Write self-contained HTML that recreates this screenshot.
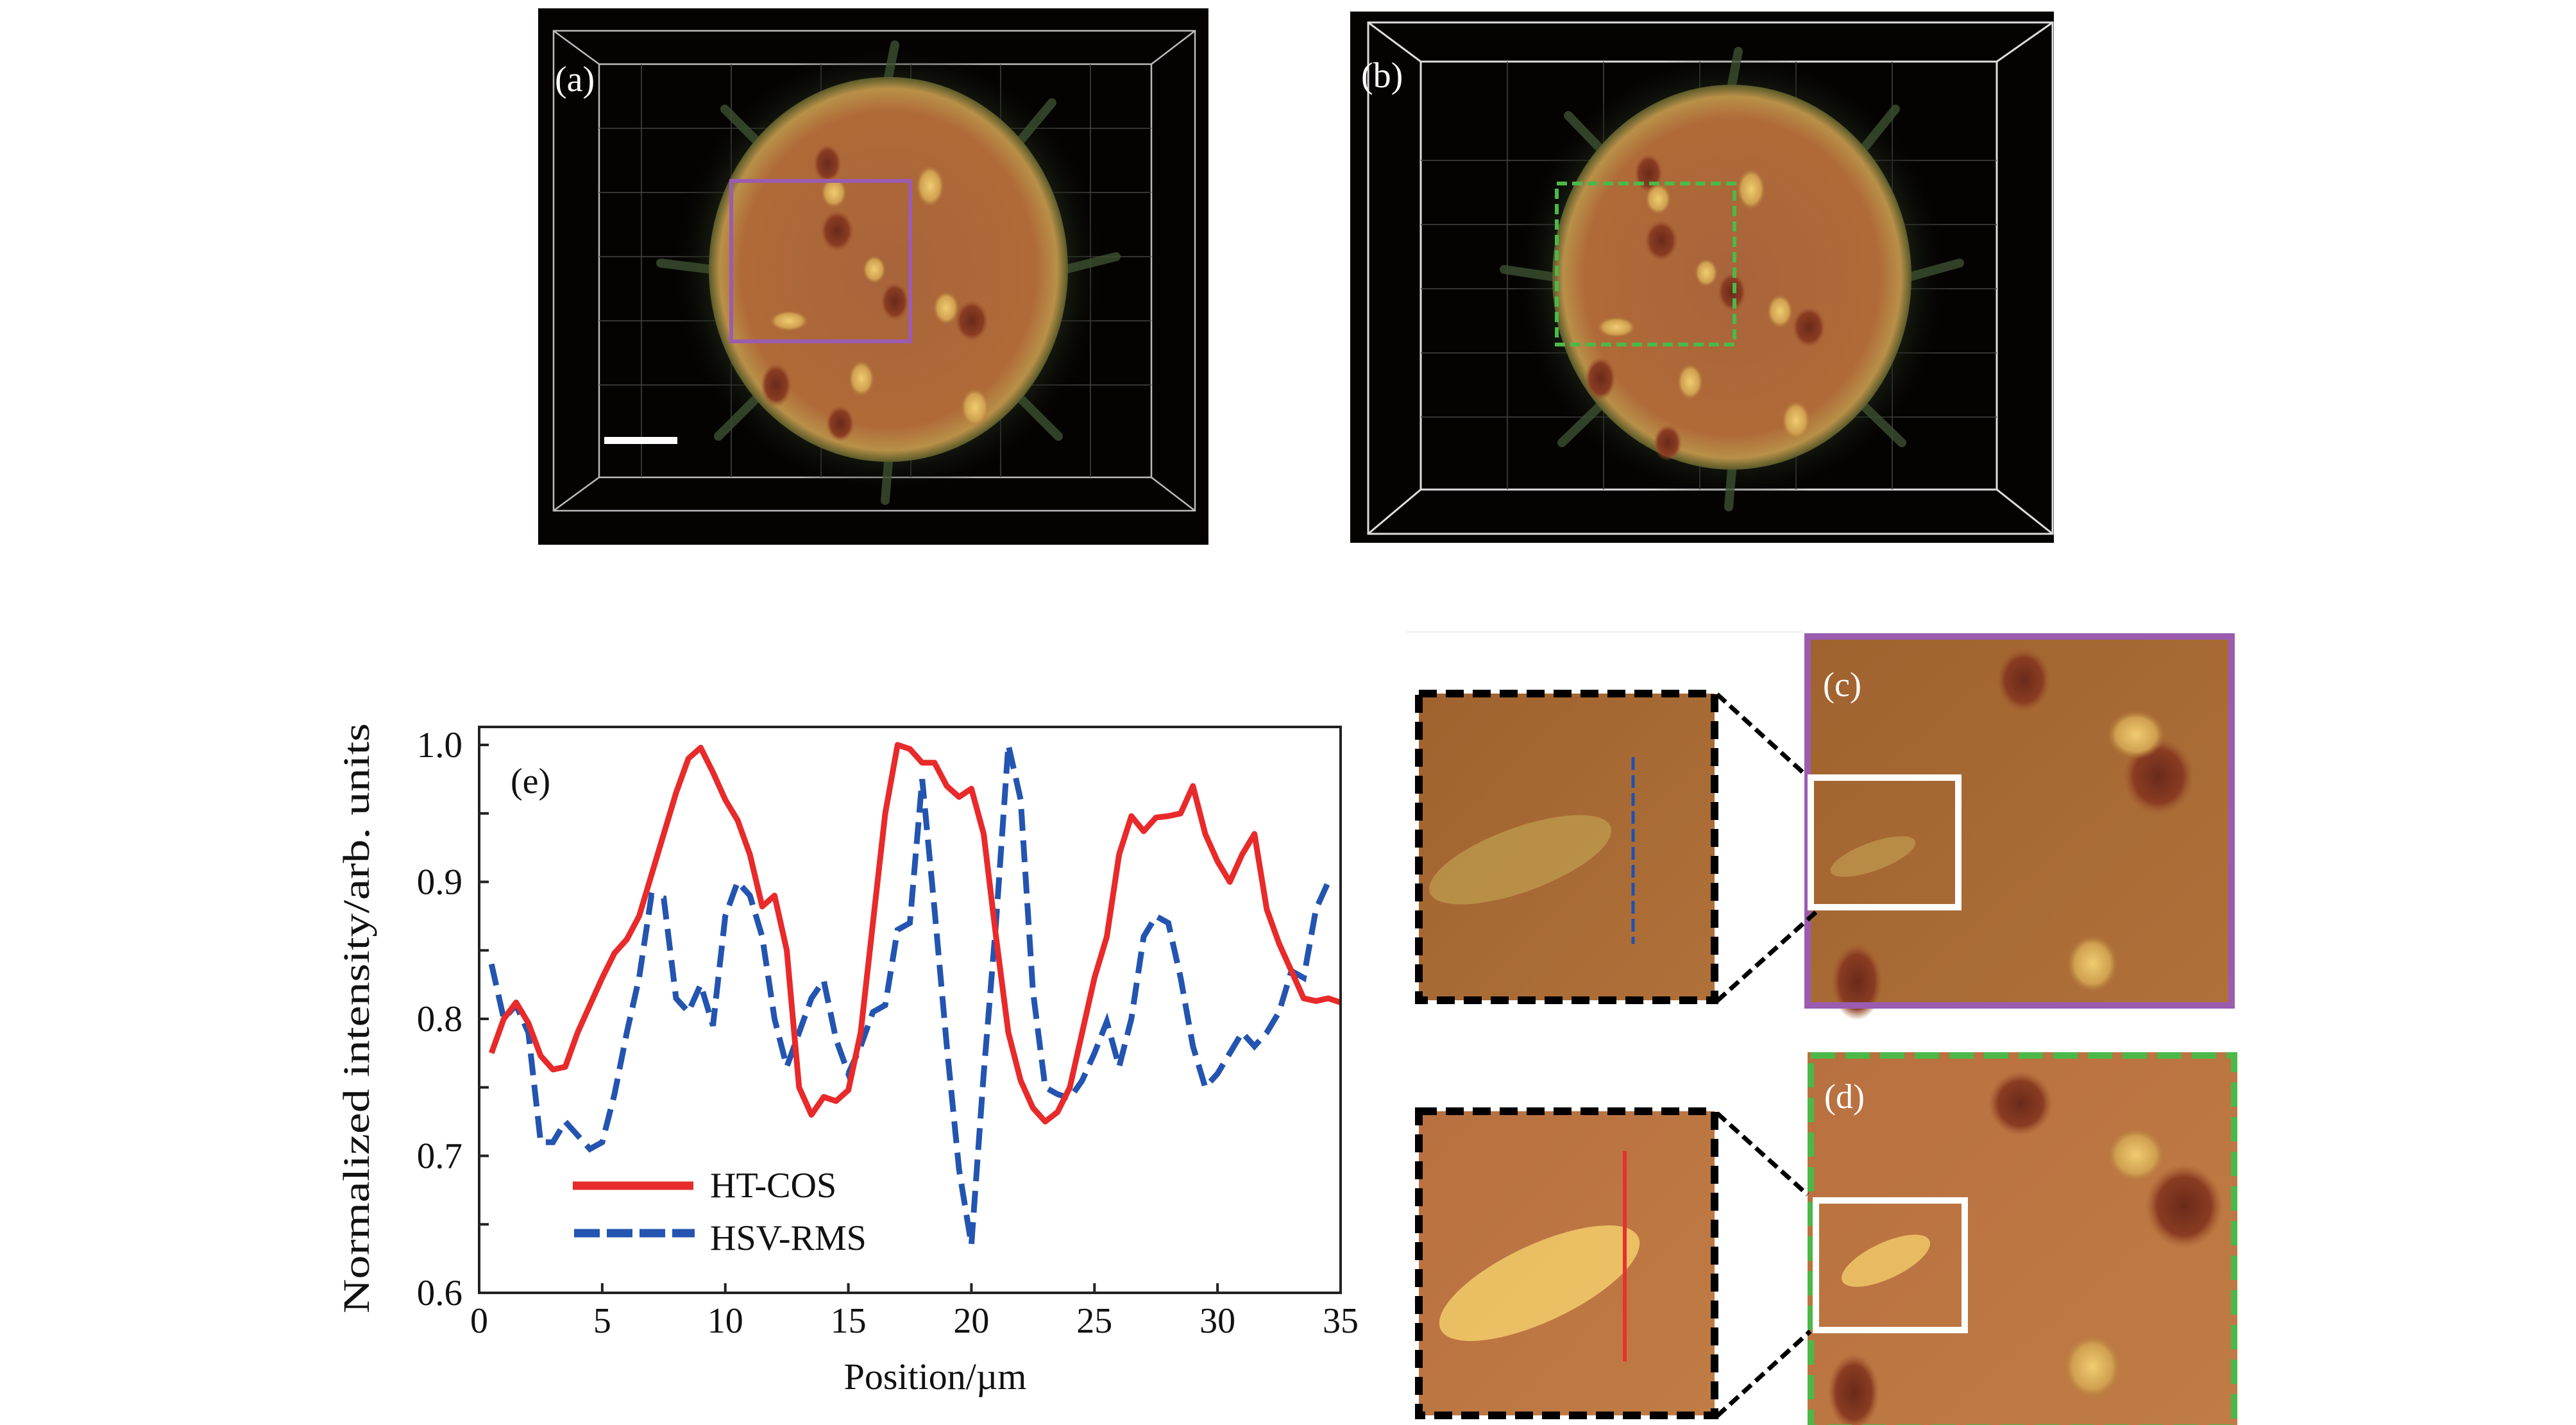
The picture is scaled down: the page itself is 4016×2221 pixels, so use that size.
<!DOCTYPE html>
<html><head><meta charset="utf-8"><style>
html,body{margin:0;padding:0;background:#fff;}
svg{display:block;}
text{font-family:"Liberation Serif",serif;}
</style></head><body>
<svg id="fig" width="4016" height="2221" viewBox="0 0 4016 2221" xmlns="http://www.w3.org/2000/svg">
<defs>
<radialGradient id="sph" cx="0.5" cy="0.5" r="0.5">
<stop offset="0" stop-color="#a8643a"/><stop offset="0.82" stop-color="#b06a38"/><stop offset="0.94" stop-color="#b89048"/><stop offset="1" stop-color="#5a5a2a"/>
</radialGradient>
<radialGradient id="halo" cx="0.5" cy="0.5" r="0.5">
<stop offset="0.75" stop-color="#2e3a22"/><stop offset="1" stop-color="#000" stop-opacity="0"/>
</radialGradient>
<radialGradient id="pit" cx="0.5" cy="0.5" r="0.5"><stop offset="0" stop-color="#6a2a1a"/><stop offset="0.7" stop-color="#8a3c22"/><stop offset="1" stop-color="#a0582e" stop-opacity="0"/></radialGradient>
<radialGradient id="bump" cx="0.5" cy="0.5" r="0.5"><stop offset="0" stop-color="#f0cc70"/><stop offset="0.7" stop-color="#d0a050"/><stop offset="1" stop-color="#b07a3a" stop-opacity="0"/></radialGradient>
<linearGradient id="tex" x1="0" y1="0" x2="1" y2="1"><stop offset="0" stop-color="#a0622e"/><stop offset="0.5" stop-color="#a86a34"/><stop offset="1" stop-color="#b0703a"/></linearGradient>
<linearGradient id="texd" x1="0" y1="0" x2="1" y2="1"><stop offset="0" stop-color="#b87040"/><stop offset="1" stop-color="#c07c44"/></linearGradient>
</defs>

<!-- Panel (a) -->
<g>
<rect x="839" y="13" width="1045" height="836" fill="#050302"/>
<g fill="none" stroke="#bbb" stroke-width="2.5">
<rect x="863" y="48" width="1000" height="748"/>
<rect x="934" y="100" width="861" height="644"/>
<line x1="863" y1="48" x2="934" y2="100"/><line x1="1863" y1="48" x2="1795" y2="100"/>
<line x1="863" y1="796" x2="934" y2="744"/><line x1="1863" y1="796" x2="1795" y2="744"/>
</g>
<g stroke="#444" stroke-width="1.5">
<line x1="1000" y1="100" x2="1000" y2="744"/><line x1="1140" y1="100" x2="1140" y2="744"/><line x1="1280" y1="100" x2="1280" y2="744"/><line x1="1420" y1="100" x2="1420" y2="744"/><line x1="1560" y1="100" x2="1560" y2="744"/><line x1="1700" y1="100" x2="1700" y2="744"/>
<line x1="934" y1="200" x2="1795" y2="200"/><line x1="934" y1="300" x2="1795" y2="300"/><line x1="934" y1="400" x2="1795" y2="400"/><line x1="934" y1="500" x2="1795" y2="500"/><line x1="934" y1="600" x2="1795" y2="600"/>
</g>
<ellipse cx="1385" cy="420" rx="340" ry="355" fill="url(#halo)" opacity="0.8"/>
<g stroke="#3c5030" stroke-width="14" stroke-linecap="round" opacity="0.8">
<line x1="1110" y1="420" x2="1030" y2="410"/><line x1="1660" y1="420" x2="1740" y2="400"/><line x1="1385" y1="120" x2="1395" y2="70"/><line x1="1385" y1="720" x2="1380" y2="780"/>
<line x1="1180" y1="220" x2="1130" y2="170"/><line x1="1590" y1="220" x2="1640" y2="160"/><line x1="1180" y1="620" x2="1120" y2="680"/><line x1="1590" y1="620" x2="1650" y2="680"/>
</g>
<ellipse cx="1385" cy="420" rx="280" ry="300" fill="url(#sph)"/>
<ellipse cx="1290" cy="255" rx="22" ry="30" fill="url(#pit)"/><ellipse cx="1305" cy="360" rx="26" ry="32" fill="url(#pit)"/>
<ellipse cx="1395" cy="470" rx="22" ry="30" fill="url(#pit)"/><ellipse cx="1515" cy="500" rx="26" ry="32" fill="url(#pit)"/>
<ellipse cx="1210" cy="600" rx="24" ry="34" fill="url(#pit)"/><ellipse cx="1310" cy="660" rx="22" ry="28" fill="url(#pit)"/>
<ellipse cx="1300" cy="300" rx="20" ry="24" fill="url(#bump)"/><ellipse cx="1450" cy="290" rx="22" ry="32" fill="url(#bump)"/>
<ellipse cx="1363" cy="420" rx="18" ry="22" fill="url(#bump)"/><ellipse cx="1475" cy="480" rx="20" ry="26" fill="url(#bump)"/>
<ellipse cx="1343" cy="590" rx="20" ry="28" fill="url(#bump)"/><ellipse cx="1520" cy="635" rx="22" ry="30" fill="url(#bump)"/>
<ellipse cx="1230" cy="500" rx="30" ry="16" fill="url(#bump)"/>
<rect x="1140" y="282" width="279" height="250" fill="none" stroke="#9b5cb0" stroke-width="6"/>
<rect x="942" y="681" width="114" height="11" fill="#fff"/>
<text x="865" y="142" font-size="56" fill="#fff">(a)</text>
</g>

<!-- Panel (b) -->
<g>
<rect x="2105" y="18" width="1097" height="828" fill="#050302"/>
<g fill="none" stroke="#ddd" stroke-width="3">
<rect x="2133" y="35" width="1067" height="797"/>
<rect x="2215" y="96" width="898" height="667"/>
<line x1="2133" y1="35" x2="2215" y2="96"/><line x1="3200" y1="35" x2="3113" y2="96"/>
<line x1="2133" y1="832" x2="2215" y2="763"/><line x1="3200" y1="832" x2="3113" y2="763"/>
</g>
<g stroke="#444" stroke-width="1.5">
<line x1="2350" y1="96" x2="2350" y2="763"/><line x1="2500" y1="96" x2="2500" y2="763"/><line x1="2650" y1="96" x2="2650" y2="763"/><line x1="2800" y1="96" x2="2800" y2="763"/><line x1="2950" y1="96" x2="2950" y2="763"/>
<line x1="2215" y1="250" x2="3113" y2="250"/><line x1="2215" y1="350" x2="3113" y2="350"/><line x1="2215" y1="450" x2="3113" y2="450"/><line x1="2215" y1="550" x2="3113" y2="550"/><line x1="2215" y1="650" x2="3113" y2="650"/>
</g>
<ellipse cx="2700" cy="432" rx="340" ry="355" fill="url(#halo)" opacity="0.8"/>
<g stroke="#3c5030" stroke-width="14" stroke-linecap="round" opacity="0.8">
<line x1="2425" y1="432" x2="2345" y2="420"/><line x1="2975" y1="432" x2="3055" y2="410"/><line x1="2700" y1="132" x2="2710" y2="80"/><line x1="2700" y1="732" x2="2695" y2="790"/>
<line x1="2495" y1="232" x2="2445" y2="180"/><line x1="2905" y1="232" x2="2955" y2="170"/><line x1="2495" y1="632" x2="2435" y2="690"/><line x1="2905" y1="632" x2="2965" y2="690"/>
</g>
<ellipse cx="2700" cy="432" rx="280" ry="300" fill="url(#sph)"/>
<ellipse cx="2570" cy="270" rx="22" ry="30" fill="url(#pit)"/><ellipse cx="2590" cy="375" rx="26" ry="32" fill="url(#pit)"/>
<ellipse cx="2700" cy="455" rx="22" ry="30" fill="url(#pit)"/><ellipse cx="2820" cy="510" rx="26" ry="32" fill="url(#pit)"/>
<ellipse cx="2495" cy="590" rx="24" ry="34" fill="url(#pit)"/><ellipse cx="2600" cy="690" rx="22" ry="28" fill="url(#pit)"/>
<ellipse cx="2585" cy="310" rx="20" ry="24" fill="url(#bump)"/><ellipse cx="2730" cy="295" rx="22" ry="32" fill="url(#bump)"/>
<ellipse cx="2660" cy="425" rx="18" ry="22" fill="url(#bump)"/><ellipse cx="2775" cy="485" rx="20" ry="26" fill="url(#bump)"/>
<ellipse cx="2635" cy="595" rx="20" ry="28" fill="url(#bump)"/><ellipse cx="2800" cy="655" rx="22" ry="30" fill="url(#bump)"/>
<ellipse cx="2520" cy="510" rx="30" ry="16" fill="url(#bump)"/>
<rect x="2427" y="286" width="277" height="251" fill="none" stroke="#4cb848" stroke-width="6" stroke-dasharray="16 8"/>
<text x="2122" y="136" font-size="56" fill="#fff">(b)</text>
</g>

<line x1="2192" y1="985" x2="2810" y2="985" stroke="#eee" stroke-width="2"/>

<!-- Panel (c) zoom -->
<g>
<rect x="2813" y="987" width="671" height="585" fill="url(#tex)"/>
<ellipse cx="3155" cy="1060" rx="42" ry="50" fill="url(#pit)"/>
<ellipse cx="3365" cy="1210" rx="55" ry="60" fill="url(#pit)"/>
<ellipse cx="2895" cy="1530" rx="40" ry="60" fill="url(#pit)"/>
<ellipse cx="3330" cy="1145" rx="45" ry="38" fill="url(#bump)"/>
<ellipse cx="3262" cy="1502" rx="40" ry="45" fill="url(#bump)"/>
<ellipse cx="2920" cy="1335" rx="70" ry="22" fill="#c09a50" opacity="0.7" transform="rotate(-20 2920 1335)"/>
<rect x="2818" y="992" width="661" height="575" fill="none" stroke="#9b5cb0" stroke-width="10"/>
<rect x="2823" y="1212" width="230" height="202" fill="none" stroke="#fff" stroke-width="10"/>
<text x="2842" y="1085" font-size="54" fill="#fff">(c)</text>
</g>
<g>
<rect x="2212" y="1081" width="461" height="478" fill="url(#tex)"/>
<ellipse cx="2370" cy="1340" rx="150" ry="50" fill="#c0a050" opacity="0.7" transform="rotate(-20 2370 1340)"/>
<rect x="2212" y="1081" width="461" height="478" fill="none" stroke="#000" stroke-width="12" stroke-dasharray="28 14"/>
<line x1="2546" y1="1180" x2="2546" y2="1471" stroke="#2050b0" stroke-width="5" stroke-dasharray="20 8"/>
</g>
<line x1="2677" y1="1082" x2="2812" y2="1205" stroke="#000" stroke-width="7" stroke-dasharray="18 9"/>
<line x1="2677" y1="1560" x2="2833" y2="1420" stroke="#000" stroke-width="7" stroke-dasharray="18 9"/>

<!-- Panel (d) zoom -->
<g>
<rect x="2818" y="1640" width="670" height="581" fill="url(#texd)"/>
<ellipse cx="3150" cy="1720" rx="50" ry="50" fill="url(#pit)"/>
<ellipse cx="3405" cy="1880" rx="60" ry="65" fill="url(#pit)"/>
<ellipse cx="2890" cy="2170" rx="40" ry="60" fill="url(#pit)"/>
<ellipse cx="3330" cy="1800" rx="45" ry="42" fill="url(#bump)"/>
<ellipse cx="3262" cy="2130" rx="45" ry="50" fill="url(#bump)"/>
<ellipse cx="2940" cy="1965" rx="75" ry="28" fill="#f0c868" opacity="0.85" transform="rotate(-25 2940 1965)"/>
<rect x="2823" y="1645" width="660" height="580" fill="none" stroke="#4cb848" stroke-width="10" stroke-dasharray="38 16"/>
<rect x="2831" y="1871" width="232" height="202" fill="none" stroke="#fff" stroke-width="10"/>
<text x="2844" y="1727" font-size="54" fill="#fff">(d)</text>
</g>
<g>
<rect x="2212" y="1732" width="461" height="474" fill="url(#texd)"/>
<ellipse cx="2400" cy="2000" rx="170" ry="60" fill="#f0c868" opacity="0.9" transform="rotate(-25 2400 2000)"/>
<rect x="2212" y="1732" width="461" height="474" fill="none" stroke="#000" stroke-width="12" stroke-dasharray="28 14"/>
<line x1="2533" y1="1794" x2="2533" y2="2122" stroke="#e83030" stroke-width="6"/>
</g>
<line x1="2677" y1="1735" x2="2818" y2="1862" stroke="#000" stroke-width="7" stroke-dasharray="18 9"/>
<line x1="2677" y1="2207" x2="2822" y2="2075" stroke="#000" stroke-width="7" stroke-dasharray="18 9"/>

<!-- Chart (e) -->
<g id="chart"></g>
</svg>
<script>
const xTicks = [0, 5, 10, 15, 20, 25, 30, 35];
const yTicks = [0.6, 0.7, 0.8, 0.9, 1.0];
const yTickLabels = ["0.6", "0.7", "0.8", "0.9", "1.0"];
const yMinorTicks = [0.65, 0.75, 0.85, 0.95];
const htPos = [0.5,1,1.5,2,2.5,3,3.5,4,4.5,5,5.5,6,6.5,7,7.5,8,8.5,9,9.5,10,10.5,11,11.5,12,12.5,13,13.5,14,14.5,15,15.5,16,16.5,17,17.5,18,18.5,19,19.5,20,20.5,21,21.5,22,22.5,23,23.5,24,24.5,25,25.5,26,26.5,27,27.5,28,28.5,29,29.5,30,30.5,31,31.5,32,32.5,33,33.5,34,34.5,35];
const htCos = [0.775,0.800,0.812,0.797,0.773,0.763,0.765,0.790,0.810,0.830,0.848,0.858,0.875,0.905,0.935,0.965,0.990,0.998,0.980,0.960,0.945,0.920,0.882,0.890,0.850,0.750,0.730,0.743,0.740,0.748,0.790,0.870,0.950,1.000,0.997,0.987,0.987,0.970,0.962,0.968,0.935,0.860,0.790,0.755,0.735,0.725,0.732,0.750,0.790,0.830,0.860,0.920,0.948,0.937,0.947,0.948,0.950,0.970,0.935,0.915,0.900,0.920,0.935,0.880,0.855,0.835,0.815,0.813,0.815,0.812];
const hsvPos = [0.5,1,1.5,2,2.5,3,3.5,4,4.5,5,5.5,6,6.5,7,7.5,8,8.5,9,9.5,10,10.5,11,11.5,12,12.5,13,13.5,14,14.5,15,15.5,16,16.5,17,17.5,18,18.5,19,19.5,20,20.5,21,21.5,22,22.5,23,23.5,24,24.5,25,25.5,26,26.5,27,27.5,28,28.5,29,29.5,30,30.5,31,31.5,32,32.5,33,33.5,34,34.5];
const hsvRms = [0.840,0.800,0.810,0.790,0.710,0.710,0.725,0.715,0.705,0.710,0.745,0.790,0.830,0.890,0.888,0.815,0.805,0.825,0.795,0.875,0.900,0.890,0.860,0.800,0.765,0.790,0.815,0.828,0.785,0.760,0.780,0.805,0.810,0.865,0.870,0.975,0.880,0.780,0.690,0.635,0.760,0.870,1.000,0.960,0.820,0.750,0.745,0.742,0.755,0.775,0.798,0.765,0.800,0.860,0.875,0.870,0.830,0.780,0.750,0.760,0.775,0.790,0.780,0.790,0.805,0.835,0.830,0.880,0.900];

const NS = "http://www.w3.org/2000/svg";
const L = 747, R = 2090, T = 1133, B = 2015;
const xMin = 0, xMax = 35, yMin = 0.6, yMax = 1.0, y1px = 1161;
function sx(v){ return L + (v - xMin) / (xMax - xMin) * (R - L); }
function sy(v){ return B - (v - yMin) / (yMax - yMin) * (B - y1px); }
const g = document.getElementById('chart');
function el(tag, attrs){ const e = document.createElementNS(NS, tag); for (const k in attrs) e.setAttribute(k, attrs[k]); g.appendChild(e); return e; }

function linePath(xs, ys){ return xs.map((x,i)=>(i?'L':'M')+sx(x).toFixed(1)+' '+sy(ys[i]).toFixed(1)).join(' '); }
const clip = document.createElementNS(NS,'clipPath'); clip.setAttribute('id','plotclip');
const cr = document.createElementNS(NS,'rect'); cr.setAttribute('x',L); cr.setAttribute('y',T); cr.setAttribute('width',R-L); cr.setAttribute('height',B-T);
clip.appendChild(cr); document.querySelector('defs').appendChild(clip);

const hsv = el('path',{d:linePath(hsvPos,hsvRms),fill:'none',stroke:'#2354b0','stroke-width':9,'stroke-dasharray':'34 15','clip-path':'url(#plotclip)'});


const ht = el('path',{d:linePath(htPos,htCos),fill:'none',stroke:'#e82a2a','stroke-width':9,'stroke-linejoin':'round','clip-path':'url(#plotclip)'});



const frame = el('rect',{x:L,y:T,width:R-L,height:B-T,fill:'none',stroke:'#222','stroke-width':4});



xTicks.forEach(v=>{
  const t = el('line',{x1:sx(v),x2:sx(v),y1:B,y2:B-15,stroke:'#222','stroke-width':4});
  
  
  const lb = el('text',{x:sx(v),y:2077,'font-size':56,'text-anchor':'middle',fill:'#111'});
  lb.textContent = String(v);
  
  
});
yTicks.concat(yMinorTicks).forEach(v=>{
  const t = el('line',{x1:L,x2:L+15,y1:sy(v),y2:sy(v),stroke:'#222','stroke-width':4});
  
  
});
yTicks.forEach((v,i)=>{
  const lb = el('text',{x:721,y:sy(v)+19,'font-size':57,'text-anchor':'end',fill:'#111'});
  lb.textContent = yTickLabels[i];
  
  
});
const yt = el('text',{x:0,y:0,'font-size':58,'text-anchor':'middle',fill:'#111',transform:'translate(575 1587) rotate(-90)',textLength:920,lengthAdjust:'spacingAndGlyphs'});
yt.textContent = 'Normalized intensity/arb. units';


const xt = el('text',{x:1458,y:2165,'font-size':58,'text-anchor':'middle',fill:'#111'});
xt.textContent = 'Position/\u00b5m';


const pl = el('text',{x:796,y:1236,'font-size':56,fill:'#111'});
pl.textContent = '(e)';



const lg1 = el('line',{x1:893,x2:1081,y1:1848,y2:1848,stroke:'#e82a2a','stroke-width':13});


const lt1 = el('text',{x:1107,y:1866,'font-size':56,fill:'#111'});
lt1.textContent = 'HT-COS';


const lg2 = el('line',{x1:895,x2:1083,y1:1922,y2:1922,stroke:'#2354b0','stroke-width':13,'stroke-dasharray':'40 11'});


const lt2 = el('text',{x:1107,y:1948,'font-size':56,fill:'#111'});
lt2.textContent = 'HSV-RMS';


</script>
</body></html>
